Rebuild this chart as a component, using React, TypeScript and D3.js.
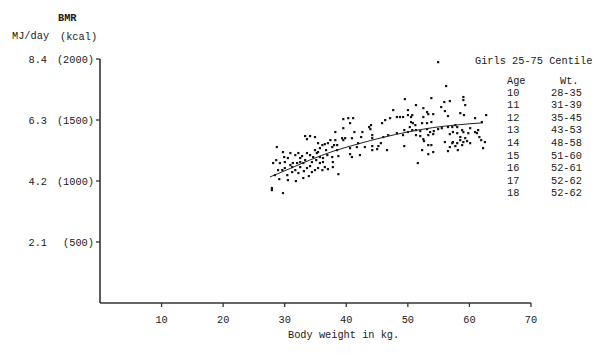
import React from "react";
import * as d3 from "d3";

// Scatter data: body weight (kg) and BMR (kcal)
const scatterWeight = [
  33.3, 34.1, 34.9, 33.6, 35.4, 36.1, 36.5, 37.0, 28.7, 29.7, 30.9, 31.7, 32.2, 32.8, 33.6, 34.1,
  34.9, 35.2, 35.7, 36.2, 36.9, 28.1, 29.2, 30.0, 30.9, 31.3, 32.0, 32.5, 33.0, 30.0, 31.2, 31.7,
  32.5, 33.6, 34.1, 34.9, 35.7, 36.2, 36.5, 28.9, 28.4, 31.2, 32.2, 34.4, 35.4, 36.1, 37.0, 29.1,
  30.5, 31.8, 27.9, 27.9, 29.7, 30.5, 32.5, 33.3, 34.4, 35.1, 29.6, 30.4, 33.1, 33.9, 34.6, 35.4,
  35.7, 36.7, 29.9, 28.6, 33.0,
  47.6, 48.2, 47.1, 46.3, 45.8, 39.5, 40.3, 41.1, 39.5, 38.2, 41.3, 42.6, 43.7, 44.0, 43.9, 39.3,
  39.8, 39.5, 40.9, 42.4, 44.2, 46.0, 46.8, 38.2, 38.0, 38.5, 41.9, 44.2, 45.6, 48.2, 37.7, 40.6,
  41.7, 43.0, 44.2, 45.2, 38.5, 37.7, 38.7, 40.6, 40.9, 42.2, 44.2, 45.0, 46.6, 37.8, 37.8, 38.7,
  40.6, 37.4,
  56.2, 53.8, 55.9, 56.8, 49.5, 51.3, 52.5, 55.4, 56.0, 50.0, 53.1, 54.1, 48.7, 49.2, 50.0, 50.5,
  50.7, 52.5, 53.3, 56.5, 50.5, 52.3, 53.1, 53.8, 50.3, 51.2, 50.8, 49.4, 50.0, 50.7, 51.3, 52.0,
  53.1, 53.6, 54.2, 54.9, 55.5, 56.5, 57.2, 49.2, 51.3, 52.0, 53.3, 54.1, 56.8, 52.5, 53.3, 53.8,
  52.6, 56.0, 57.2, 56.8, 49.4, 52.3, 54.1, 56.5, 53.3, 51.6, 54.9,
  59.0, 59.0, 59.3, 58.5, 59.1, 60.9, 62.7, 57.7, 58.0, 58.8, 60.1, 60.9, 61.4, 57.3, 58.0, 59.0,
  59.8, 61.2, 58.5, 59.3, 57.3, 58.0, 58.5, 59.0, 59.6, 57.7, 58.8, 60.1, 61.6, 61.9, 62.5, 58.1,
  62.2, 62.0,
];
const scatterBmr = [
  1369, 1369, 1361, 1344, 1311, 1295, 1303, 1311, 1279, 1238, 1230, 1213, 1230, 1205, 1230, 1213,
  1254, 1230, 1197, 1189, 1213, 1148, 1148, 1156, 1131, 1148, 1148, 1156, 1148, 1107, 1115, 1090,
  1115, 1107, 1123, 1090, 1148, 1156, 1115, 1090, 1049, 1074, 1066, 1074, 1107, 1090, 1098, 1016,
  1008, 1000, 943, 926, 902, 1189, 1189, 1172, 1156, 1172, 1090, 1049, 1082, 1041, 1197, 1238,
  1270, 1254, 1197, 1172, 1025,
  1582, 1525, 1516, 1500, 1475, 1508, 1516, 1516, 1434, 1402, 1402, 1402, 1443, 1459, 1426, 1352,
  1352, 1336, 1352, 1361, 1377, 1361, 1377, 1336, 1295, 1295, 1311, 1352, 1311, 1393, 1279, 1270,
  1279, 1279, 1287, 1287, 1254, 1197, 1205, 1221, 1197, 1213, 1254, 1262, 1254, 1156, 1115, 1057,
  1475, 1336,
  1779, 1680, 1648, 1656, 1672, 1623, 1598, 1607, 1574, 1582, 1566, 1549, 1525, 1525, 1541, 1525,
  1541, 1525, 1549, 1533, 1484, 1475, 1475, 1484, 1443, 1459, 1475, 1418, 1402, 1418, 1418, 1410,
  1426, 1402, 1410, 1426, 1434, 1443, 1443, 1377, 1377, 1369, 1377, 1385, 1385, 1344, 1295, 1295,
  1328, 1320, 1311, 1279, 1287, 1254, 1238, 1246, 1221, 1148, 1975,
  1689, 1664, 1623, 1557, 1541, 1516, 1541, 1459, 1443, 1418, 1434, 1402, 1418, 1402, 1393, 1402,
  1393, 1393, 1361, 1352, 1320, 1311, 1336, 1320, 1328, 1287, 1295, 1311, 1361, 1336, 1320, 1254,
  1270, 1484,
];

// Fitted curve
const fitWeight = [27.6, 31, 34, 38, 42, 46, 50, 54, 58, 62.2];
const fitBmr = [1033, 1105, 1170, 1246, 1305, 1358, 1402, 1437, 1460, 1477];

// Axes
const xTicks = [10, 20, 30, 40, 50, 60, 70];
const yTicksKcal = [500, 1000, 1500, 2000];
const yTicksMJ = ["2.1", "4.2", "6.3", "8.4"];

// Legend table
const legendAges = ["10", "11", "12", "13", "14", "15", "16", "17", "18"];
const legendWeights = ["28-35", "31-39", "35-45", "43-53", "48-58", "51-60", "52-61", "52-62", "52-62"];

const FONT = "'Liberation Mono', 'DejaVu Sans Mono', monospace";

export default function App() {
  const x = d3.scaleLinear().domain([0, 70]).range([100, 531]);
  const y = d3.scaleLinear().domain([0, 2000]).range([303, 59]);

  const fitPts: [number, number][] = fitWeight.map((w, i) => [w, fitBmr[i]]);
  const line = d3
    .line<[number, number]>()
    .x((d) => x(d[0]))
    .y((d) => y(d[1]))
    .curve(d3.curveMonotoneX);

  const ink = "#1a1a1a";
  const fs = 10.3;

  return (
    <svg
      width={600}
      height={354}
      style={{ position: "absolute", left: 0, top: 0, background: "#fff" }}
      fontFamily={FONT}
      fontSize={fs}
    >
      {/* Y axis labels */}
      <text x={58} y={21} fill={ink} fontWeight="bold">BMR</text>
      <text x={12} y={39} fill={ink}>MJ/day</text>
      <text x={60} y={40} fill={ink}>(kcal)</text>
      {yTicksKcal.map((v, i) => (
        <g key={v}>
          <text x={47} y={y(v) + 3.5} textAnchor="end" fill={ink}>{yTicksMJ[i]}</text>
          <text x={94} y={y(v) + 3.5} textAnchor="end" fill={ink}>({v})</text>
          <line x1={96} x2={x(0)} y1={y(v)} y2={y(v)} stroke="#333" strokeWidth={1.3} />
        </g>
      ))}
      {/* Axes lines */}
      <line x1={x(0)} x2={x(0)} y1={y(2000)} y2={y(0)} stroke="#333" strokeWidth={1.6} />
      <line x1={x(0)} x2={x(70)} y1={y(0)} y2={y(0)} stroke="#333" strokeWidth={1.6} />
      {xTicks.map((t) => (
        <g key={t}>
          <line x1={x(t)} x2={x(t)} y1={y(0)} y2={y(0) + 4} stroke="#333" strokeWidth={1.3} />
          <text x={x(t)} y={323} textAnchor="middle" fill={ink}>{t}</text>
        </g>
      ))}
      <text x={288} y={338} fill={ink}>Body weight in kg.</text>

      {/* Scatter */}
      {scatterWeight.map((w, i) => (
        <rect
          key={i}
          x={x(w) - 1}
          y={y(scatterBmr[i]) - 1}
          width={2.2}
          height={2.2}
          fill="#111"
        />
      ))}

      {/* Fit line */}
      <path d={line(fitPts) || ""} fill="none" stroke="#222" strokeWidth={1} />

      {/* Legend */}
      <text x={475} y={64} fill={ink}>Girls 25-75 Centile</text>
      <text x={507} y={84} fill={ink}>Age</text>
      <text x={560} y={84} fill={ink}>Wt.</text>
      {legendAges.map((a, i) => (
        <g key={a + i}>
          <text x={507} y={95.5 + i * 12.6} fill={ink}>{a}</text>
          <text x={551} y={95.5 + i * 12.6} fill={ink}>{legendWeights[i]}</text>
        </g>
      ))}
    </svg>
  );
}
